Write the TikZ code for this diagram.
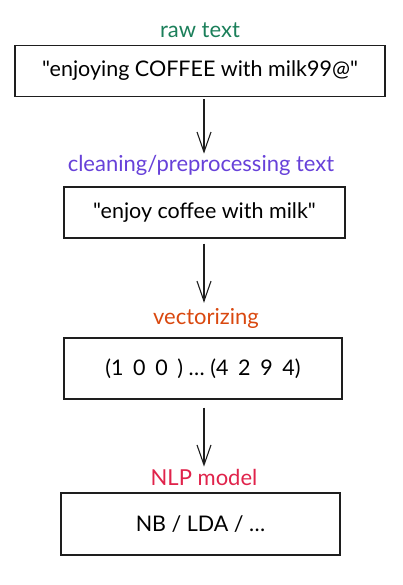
\documentclass[tikz,border=0pt]{standalone}
\usepackage{fontspec}
\setmainfont{Lato}[Ligatures=TeXOff]
\usetikzlibrary{arrows.meta,positioning}
\definecolor{rawgreen}{HTML}{1B7F5A}
\definecolor{cleanviolet}{HTML}{6741D9}
\definecolor{vecorange}{HTML}{D9480F}
\definecolor{nlpred}{HTML}{E0234B}
\definecolor{ink}{HTML}{1E1E1E}
\newcommand{\gap}{\hspace{0.45em}}

\begin{document}
\begin{tikzpicture}[x=1pt,y=-1pt,>={Straight Barb[length=20pt,width=14pt]},
  stage/.style={draw=ink,line width=1.4pt,inner sep=0pt,font=\fontsize{21.5}{24}\selectfont},
  tag/.style={inner sep=0pt,font=\fontsize{22}{25}\selectfont}]
\useasboundingbox (0,0) rectangle (402,585);
\node [tag,text=rawgreen] (raw) at (200,30) {raw text};
\node [stage,minimum width=370pt,minimum height=51pt] (rawbox) at (200,71) {"enjoying COFFEE with milk99@"};
\node [tag,text=cleanviolet] (clean) at (201,165) {cleaning/preprocessing text};
\node [stage,minimum width=281pt,minimum height=51pt] (cleanbox) at (204.5,212.5) {"enjoy coffee with milk"};
\node [tag,text=vecorange] (vec) at (206,318) {vectorizing};
\node [stage,minimum width=278pt,minimum height=61pt] (vecbox) at (203,368.5) {(1\gap 0\gap 0\gap ) \dots\ (4\gap 2\gap 9\gap 4)};
\node [tag,text=nlpred] (nlp) at (204,477) {NLP model};
\node [stage,minimum width=279pt,minimum height=62pt] (nlpbox) at (200.5,524) {NB / LDA / \dots};
% arrows between the stages
\draw [->,ink,line width=1.1pt] ([xshift=4pt,yshift=-2pt]rawbox.south) -- ([xshift=3pt,yshift=1pt]clean.north);
\draw [->,ink,line width=1.1pt] ([xshift=-0.5pt,yshift=-5pt]cleanbox.south) -- ([xshift=-2pt,yshift=5pt]vec.north);
\draw [->,ink,line width=1.1pt] ([xshift=1pt,yshift=-8pt]vecbox.south) -- ([yshift=2pt]nlp.north);
\end{tikzpicture}
\end{document}
